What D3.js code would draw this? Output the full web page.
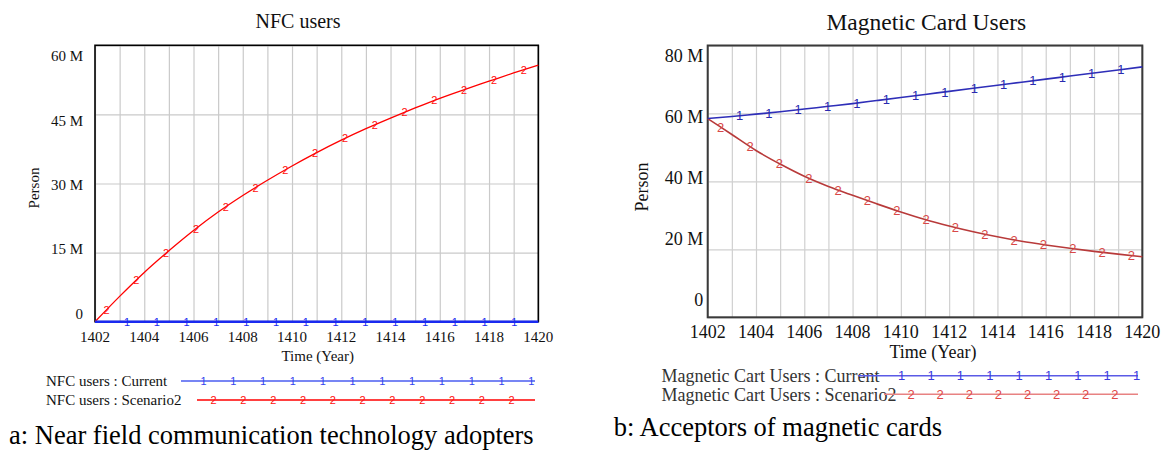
<!DOCTYPE html>
<html>
<head>
<meta charset="utf-8">
<script src="https://cdn.jsdelivr.net/npm/d3@7"></script>
<style>
  body { margin: 0; background: #fff; }
  text { font-family: "Liberation Serif", "Times New Roman", serif; fill: #111; }
  .marker { font-family: "Liberation Sans", Arial, sans-serif; }
</style>
</head>
<body>
<div id="svg_chart"></div>
<script>
///////////// Data //////////////
var years = [1402, 1403, 1404, 1405, 1406, 1407, 1408, 1409, 1410, 1411,
             1412, 1413, 1414, 1415, 1416, 1417, 1418, 1419, 1420];
var year_ticks = [1402, 1404, 1406, 1408, 1410, 1412, 1414, 1416, 1418, 1420];

// NFC users (million person)
var nfc_current = [0, 0, 0, 0, 0, 0, 0, 0, 0, 0, 0, 0, 0, 0, 0, 0, 0, 0, 0];
var nfc_scenario2 = [0, 5.5, 10.7, 15.4, 19.8, 23.8, 27.4, 30.7, 33.8, 36.7,
                     39.4, 41.9, 44.2, 46.4, 48.5, 50.4, 52.2, 54.0, 55.7];
var nfc_ticks = [0, 15, 30, 45, 60];

// Magnetic card users (million person)
var mag_current = [58.5, 59.1, 59.8, 60.5, 61.3, 62.1, 62.9, 63.8, 64.7, 65.6,
                   66.5, 67.4, 68.3, 69.2, 70.1, 71.0, 71.9, 72.8, 73.7];
var mag_scenario2 = [58.5, 53.8, 49.1, 45.1, 41.5, 38.5, 35.9, 33.4, 31.0, 28.8,
                     26.9, 25.2, 23.7, 22.4, 21.3, 20.3, 19.4, 18.6, 17.8];
var mag_ticks = [0, 20, 40, 60, 80];

///////////// Canvas //////////////
var svg = d3.select('#svg_chart').append('svg')
  .attr('width', 1169)
  .attr('height', 451);

function draw_panel(p) {
  var x = d3.scaleLinear().domain([1402, 1420]).range([p.left, p.right]);
  var y = d3.scaleLinear().domain([0, p.y_max]).range([p.bottom, p.top]);
  // vensim squeezes the value labels a little inside the grid
  var y_label = d3.scaleLinear().domain([0, p.y_max]).range([p.label_bottom, p.label_top]);

  var g = svg.append('g');

  // grid lines
  g.append('g')
    .attr('transform', `translate(0,${p.bottom})`)
    .call(d3.axisBottom(x).tickValues(years).tickSize(p.top - p.bottom).tickFormat(''))
    .call(a => a.select('.domain').remove())
    .selectAll('line').attr('stroke', p.grid).attr('stroke-width', 1.2);
  g.append('g')
    .attr('transform', `translate(${p.left},0)`)
    .call(d3.axisLeft(y).tickValues(p.y_ticks).tickSize(p.left - p.right).tickFormat(''))
    .call(a => a.select('.domain').remove())
    .selectAll('line').attr('stroke', p.grid).attr('stroke-width', 1.2);

  // frame
  g.append('rect')
    .attr('x', p.left).attr('y', p.top)
    .attr('width', p.right - p.left).attr('height', p.bottom - p.top)
    .attr('fill', 'none')
    .attr('stroke', p.frame)
    .attr('stroke-width', p.frame_width);

  // series
  p.series.forEach(function(s) {
    var line = d3.line()
      .x((d, i) => x(years[i]))
      .y(d => y(d))
      .curve(d3.curveMonotoneX);
    g.append('path')
      .datum(s.values)
      .attr('d', line)
      .attr('fill', 'none')
      .attr('stroke', s.color)
      .attr('stroke-width', s.width);

    // number markers along the line
    var interp = d3.scaleLinear().domain(years).range(s.values);
    var marks = d3.range(s.mark_start, 1420, p.mark_step);
    g.selectAll(null).data(marks).enter().append('text')
      .attr('class', 'marker')
      .attr('x', d => x(d))
      .attr('y', d => y(interp(d)))
      .attr('dy', '0.36em')
      .attr('text-anchor', 'middle')
      .style('font-size', p.mark_font + 'px')
      .style('fill', s.mark_color)
      .text(s.mark);
  });

  // tick labels
  g.selectAll(null).data(year_ticks).enter().append('text')
    .attr('x', d => x(d))
    .attr('y', p.xlabel_y)
    .attr('dy', '0.35em')
    .attr('text-anchor', 'middle')
    .style('font-size', p.tick_font + 'px')
    .text(d => d);
  g.selectAll(null).data(p.y_ticks).enter().append('text')
    .attr('x', p.ylabel_x)
    .attr('y', d => y_label(d))
    .attr('dy', '0.35em')
    .attr('text-anchor', 'end')
    .style('font-size', p.tick_font + 'px')
    .text(d => d === 0 ? '0' : d + ' M');

  // titles
  g.append('text')
    .attr('x', p.title_x).attr('y', p.title_y)
    .attr('dy', '0.35em')
    .attr('text-anchor', 'middle')
    .style('font-size', p.title_font + 'px')
    .text(p.title);
  g.append('text')
    .attr('x', p.xname_x).attr('y', p.xname_y)
    .attr('dy', '0.35em')
    .attr('text-anchor', 'middle')
    .style('font-size', p.tick_font + 'px')
    .text('Time (Year)');
  g.append('text')
    .attr('transform', `translate(${p.yname_x},${p.yname_y}) rotate(-90)`)
    .attr('dy', '0.35em')
    .attr('text-anchor', 'middle')
    .style('font-size', p.tick_font + 'px')
    .text('Person');

  // legend
  p.legend.forEach(function(l) {
    g.append('text')
      .attr('x', p.legend_x).attr('y', l.y)
      .attr('dy', '0.35em')
      .style('font-size', p.legend_font + 'px')
      .style('fill', p.legend_text)
      .text(l.label);
    g.append('line')
      .attr('x1', l.x0).attr('x2', l.x1)
      .attr('y1', l.y).attr('y2', l.y)
      .attr('stroke', l.color)
      .attr('stroke-width', 1.5);
    g.selectAll(null).data(d3.range(l.m0, l.x1 + 2, l.step)).enter().append('text')
      .attr('class', 'marker')
      .attr('x', d => d)
      .attr('y', l.y)
      .attr('dy', '0.36em')
      .attr('text-anchor', 'middle')
      .style('font-size', p.mark_font + 'px')
      .style('fill', l.mark_color)
      .text(l.mark);
  });

  // caption
  g.append('text')
    .attr('x', p.caption_x).attr('y', p.caption_y)
    .attr('dy', '0.35em')
    .style('font-size', '26.5px')
    .style('fill', '#000')
    .text(p.caption);
}

///////////// a: NFC users //////////////
draw_panel({
  left: 95, right: 538.3, top: 45.3, bottom: 321.7,
  y_max: 60, y_ticks: nfc_ticks,
  label_bottom: 313.3, label_top: 56, ylabel_x: 83,
  xlabel_y: 336.7, tick_font: 15,
  grid: '#cacaca', frame: '#000', frame_width: 1.6,
  mark_step: 1.21, mark_font: 11,
  series: [
    {values: nfc_scenario2, color: '#ff0000', width: 1.3, mark: '2', mark_color: '#ff1010', mark_start: 1402.47},
    {values: nfc_current, color: '#1a2af0', width: 2.6, mark: '1', mark_color: '#1a2af0', mark_start: 1403.3}
  ],
  title: 'NFC users', title_x: 298, title_y: 21, title_font: 20,
  xname_x: 317.7, xname_y: 355.7,
  yname_x: 34, yname_y: 188,
  legend_x: 46, legend_font: 15, legend_text: '#111',
  legend: [
    {label: 'NFC users : Current', y: 381, x0: 181, x1: 535, m0: 203.5, step: 29.8, color: '#4a5cf0', mark: '1', mark_color: '#3344ee'},
    {label: 'NFC users : Scenario2', y: 400, x0: 197, x1: 535, m0: 213.6, step: 29.8, color: '#ff0000', mark: '2', mark_color: '#ff1010'}
  ],
  caption: 'a: Near field communication technology adopters', caption_x: 9, caption_y: 435
});

///////////// b: Magnetic card users //////////////
draw_panel({
  left: 707.7, right: 1142.3, top: 45.5, bottom: 317.3,
  y_max: 80, y_ticks: mag_ticks,
  label_bottom: 300, label_top: 56, ylabel_x: 703.3,
  xlabel_y: 331.7, tick_font: 18,
  grid: '#d0d0d0', frame: '#3a3a3a', frame_width: 2,
  mark_step: 1.215, mark_font: 13,
  series: [
    {values: mag_scenario2, color: '#b83a3a', width: 1.6, mark: '2', mark_color: '#d84848', mark_start: 1402.54},
    {values: mag_current, color: '#2e2eb8', width: 1.6, mark: '1', mark_color: '#2a2ab0', mark_start: 1403.32}
  ],
  title: 'Magnetic Card Users', title_x: 926.3, title_y: 21.7, title_font: 23.5,
  xname_x: 932.9, xname_y: 351.7,
  yname_x: 641.7, yname_y: 187,
  legend_x: 661.6, legend_font: 18, legend_text: '#333',
  legend: [
    {label: 'Magnetic Cart Users : Current', y: 375.7, x0: 858, x1: 1138, m0: 901.7, step: 29.36, color: '#5a5ae6', mark: '1', mark_color: '#3a3ae0'},
    {label: 'Magnetic Cart Users : Scenario2', y: 394.3, x0: 884, x1: 1138, m0: 911.1, step: 29.1, color: '#e88282', mark: '2', mark_color: '#e04848'}
  ],
  caption: 'b: Acceptors of magnetic cards', caption_x: 613.8, caption_y: 426.7
});
</script>
</body>
</html>
